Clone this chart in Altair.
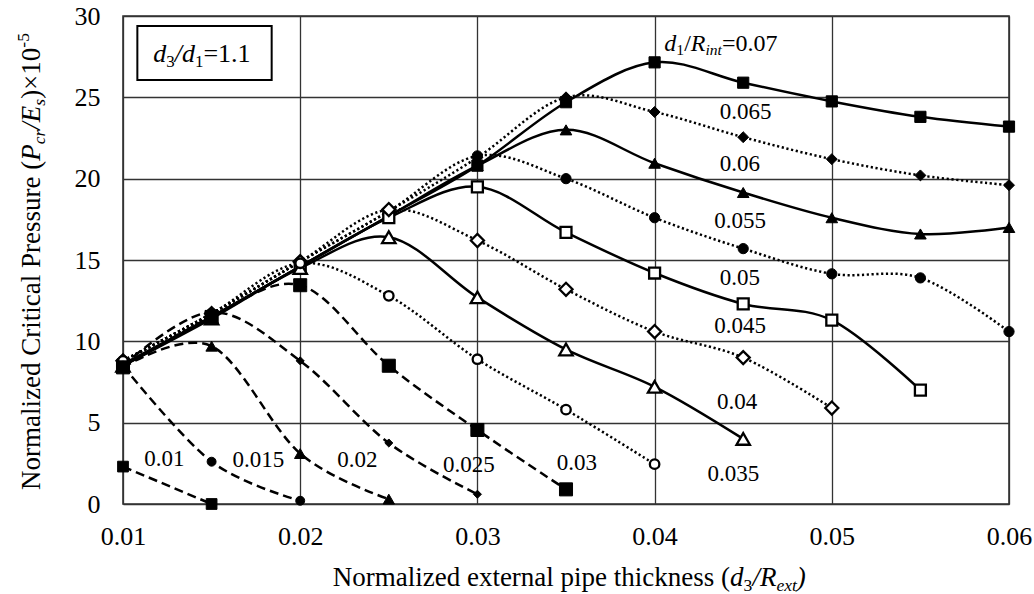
import altair as alt
import pandas as pd

# ---------------- data ----------------
X_VALUES = [0.01, 0.015, 0.02, 0.025, 0.03, 0.035, 0.04, 0.045, 0.05, 0.055, 0.06]

SERIES_NAMES = ["0.07", "0.065", "0.06", "0.055", "0.05", "0.045", "0.04",
                "0.035", "0.03", "0.025", "0.02", "0.015", "0.01"]

P070 = [8.6, 11.5, 14.6, 17.7, 20.8, 24.7, 27.15, 25.9, 24.75, 23.8, 23.2]
P065 = [8.8, 11.7, 14.9, 18.0, 21.3, 25.0, 24.1, 22.55, 21.2, 20.2, 19.6]
P060 = [8.5, 11.5, 14.6, 17.7, 20.8, 23.0, 20.95, 19.15, 17.6, 16.6, 17.0]
P055 = [8.8, 11.7, 14.9, 18.0, 21.4, 20.0, 17.6, 15.7, 14.15, 13.9, 10.6]
P050 = [8.5, 11.5, 14.6, 17.6, 19.5, 16.7, 14.2, 12.3, 11.3, 7.0]
P045 = [8.8, 11.7, 14.9, 18.1, 16.2, 13.2, 10.6, 9.0, 5.9]
P040 = [8.5, 11.4, 14.5, 16.4, 12.7, 9.5, 7.2, 4.0]
P035 = [8.8, 11.7, 14.8, 12.8, 8.9, 5.8, 2.45]
P030 = [8.4, 11.5, 13.45, 8.5, 4.55, 0.9]
P025 = [8.5, 11.8, 8.8, 3.75, 0.6]
P020 = [8.4, 9.7, 3.1, 0.3]
P015 = [8.5, 2.6, 0.2]
P010 = [2.3, 0.0]   # starts at x = 0.01

SERIES_VALUES = [P070, P065, P060, P055, P050, P045, P040,
                 P035, P030, P025, P020, P015, P010]

X_TICKS = [0.01, 0.02, 0.03, 0.04, 0.05, 0.06]
Y_TICKS = [0, 5, 10, 15, 20, 25, 30]

LABEL_TEXT = ["0.065", "0.06", "0.055", "0.05", "0.045", "0.04",
              "0.035", "0.03", "0.025", "0.02", "0.015", "0.01"]
LABEL_X = [0.04514, 0.04481, 0.04483, 0.04481, 0.04483, 0.04466,
           0.04444, 0.03561, 0.02952, 0.02323, 0.01764, 0.01233]
LABEL_Y = [24.07, 20.90, 17.40, 13.89, 10.97, 6.27,
           1.84, 2.55, 2.42, 2.70, 2.70, 2.77]

# annotation anchors (data coordinates)
TOP_LABEL_ANCHOR = [0.04055, 27.87]          # "d1/Rint=0.07"
BOX_X = [0.01081, 0.01839]
BOX_Y = [26.07, 29.38]
BOX_TEXT_ANCHOR = [0.01171, 27.19]           # "d3/d1=1.1"

# ---------------- styles ----------------
FONT = "Liberation Serif"
SOLID = []
DOTTED = [2.2, 2.6]
DASHED = [9, 5]
# name -> (dash, shape, filled, size)
STYLE = {
    "0.07": (SOLID, "square", True, 125),
    "0.065": (DOTTED, "diamond", True, 120),
    "0.06": (SOLID, "triangle-up", True, 135),
    "0.055": (DOTTED, "circle", True, 105),
    "0.05": (SOLID, "square", False, 120),
    "0.045": (DOTTED, "diamond", False, 170),
    "0.04": (SOLID, "triangle-up", False, 180),
    "0.035": (DOTTED, "circle", False, 90),
    "0.03": (DASHED, "square", True, 170),
    "0.025": (DASHED, "diamond", True, 65),
    "0.02": (DASHED, "triangle-up", True, 130),
    "0.015": (DASHED, "circle", True, 80),
    "0.01": (DASHED, "square", True, 115),
}

# Times / Liberation Serif advance widths (per 1000 em)
NORMAL_W = {' ': 250, '(': 333, ')': 333, '/': 278, '=': 564, '.': 250, '×': 564, '-': 333}
NORMAL_W.update({d: 500 for d in "0123456789"})
NORMAL_W.update(dict(zip("abcdefghijklmnopqrstuvwxyz",
                         [444, 500, 444, 500, 444, 333, 500, 500, 278, 278, 500, 278, 778,
                          500, 500, 500, 500, 333, 389, 278, 500, 500, 722, 500, 500, 444])))
NORMAL_W.update(dict(zip("ABCDEFGHIJKLMNOPQRSTUVWXYZ",
                         [722, 667, 667, 722, 611, 556, 722, 722, 333, 389, 722, 611, 889,
                          722, 722, 556, 722, 667, 556, 611, 722, 722, 944, 722, 722, 611])))
ITALIC_W = dict(NORMAL_W)
ITALIC_W.update(dict(zip("abcdefghijklmnopqrstuvwxyz",
                         [500, 500, 444, 500, 444, 278, 500, 500, 278, 278, 444, 278, 722,
                          500, 500, 500, 500, 389, 389, 278, 500, 444, 667, 444, 444, 389])))
ITALIC_W.update({'E': 611, 'P': 611, 'R': 611})


def text_width(s, italic, size):
    table = ITALIC_W if italic else NORMAL_W
    return sum(table.get(c, 500) for c in s) * size / 1000.0


def compose(pieces, size):
    """pieces: (text, italic, kind) kind in {'n','sub','sup'} -> (text, italic, fsize, offset, shift)"""
    out, pos = [], 0.0
    for txt, italic, kind in pieces:
        fs = size if kind == "n" else size * 0.65
        shift = 0.0
        if kind == "sub":
            shift = size * 0.2
        elif kind == "sup":
            shift = -size * 0.42
        out.append((txt, italic, fs, pos, shift))
        pos += text_width(txt, italic, fs)
    return out


# ---------------- chart ----------------
GRID = "#333333"
x_axis = alt.Axis(values=X_TICKS, format=".2f", labelFont=FONT, labelFontSize=26,
                  labelColor="black", ticks=False, domain=False, grid=True,
                  gridColor=GRID, gridWidth=1.3, labelPadding=19, title=None,
                  labelFlush=False)
y_axis = alt.Axis(values=Y_TICKS, format="d", labelFont=FONT, labelFontSize=26,
                  labelColor="black", ticks=False, domain=False, grid=True,
                  gridColor=GRID, gridWidth=1.3, labelPadding=23, title=None)
xs = alt.Scale(domain=[0.01, 0.06], nice=False, zero=False)
ys = alt.Scale(domain=[0, 30], nice=False, zero=True)


def X():
    return alt.X("x:Q", scale=xs, axis=x_axis)


def Y():
    return alt.Y("y:Q", scale=ys, axis=y_axis)


line_layers, point_layers = [], []
for name, vals in zip(SERIES_NAMES, SERIES_VALUES):
    df = pd.DataFrame({"x": X_VALUES[:len(vals)], "y": vals})
    dash, shape, filled, size = STYLE[name]
    lkw = dict(color="black", interpolate="cardinal", strokeWidth=2.5)
    if dash:
        lkw["strokeDash"] = dash
    line_layers.append(alt.Chart(df).mark_line(**lkw).encode(x=X(), y=Y()))
    if filled:
        pm = alt.Chart(df).mark_point(shape=shape, filled=True, fill="black", stroke="black",
                                      strokeWidth=1, size=size, opacity=1)
    else:
        pm = alt.Chart(df).mark_point(shape=shape, filled=True, fill="white", stroke="black",
                                      strokeWidth=2.3, size=size, opacity=1)
    point_layers.append(pm.encode(x=X(), y=Y()))

labels_df = pd.DataFrame({"x": LABEL_X, "y": LABEL_Y, "t": LABEL_TEXT})
labels = alt.Chart(labels_df).mark_text(font=FONT, fontSize=23, color="black",
                                        align="center", baseline="middle").encode(
    x=X(), y=Y(), text="t:N")

box_df = pd.DataFrame({"x": [BOX_X[0]], "x2": [BOX_X[1]], "y": [BOX_Y[0]], "y2": [BOX_Y[1]]})
box = alt.Chart(box_df).mark_rect(fill="white", stroke="black", strokeWidth=2).encode(
    x=X(), x2="x2", y=Y(), y2="y2")


def anchored_text(anchor, pieces, size):
    df = pd.DataFrame({"x": [anchor[0]], "y": [anchor[1]]})
    layers = []
    for txt, italic, fs, off, shift in compose(pieces, size):
        kw = dict(font=FONT, fontSize=fs, color="black", align="left",
                  baseline="alphabetic", dx=off, dy=shift)
        if italic:
            kw["fontStyle"] = "italic"
        layers.append(alt.Chart(df).mark_text(**kw).encode(x=X(), y=Y(), text=alt.value(txt)))
    return layers


top_label = anchored_text(TOP_LABEL_ANCHOR, [("d", True, "n"), ("1", False, "sub"),
                                             ("/", False, "n"), ("R", True, "n"),
                                             ("int", True, "sub"), ("=0.07", False, "n")], 24)
box_text = anchored_text(BOX_TEXT_ANCHOR, [("d", True, "n"), ("3", False, "sub"),
                                           ("/", True, "n"), ("d", True, "n"),
                                           ("1", False, "sub"), ("=1.1", False, "n")], 26)

dummy = pd.DataFrame({"a": [0]})


def pixel_text(x0, y0, pieces, size, rotated=False):
    layers = []
    for txt, italic, fs, off, shift in compose(pieces, size):
        kw = dict(font=FONT, fontSize=fs, color="black", align="left", baseline="alphabetic")
        if italic:
            kw["fontStyle"] = "italic"
        if rotated:
            kw["angle"] = 270
            px, py = x0 + shift, y0 - off
        else:
            px, py = x0 + off, y0 + shift
        layers.append(alt.Chart(dummy).mark_text(**kw).encode(
            x=alt.value(px), y=alt.value(py), text=alt.value(txt)))
    return layers


x_title = pixel_text(209.7, 569.7, [("Normalized external pipe thickness (", False, "n"),
                                    ("d", True, "n"), ("3", False, "sub"), ("/", True, "n"),
                                    ("R", True, "n"), ("ext", True, "sub"), (")", True, "n")], 27)
y_title = pixel_text(-83, 474, [("Normalized Critical Pressure (", False, "n"),
                                ("P", True, "n"), ("cr", True, "sub"), ("/", True, "n"),
                                ("E", True, "n"), ("s", True, "sub"), (")", False, "n"),
                                ("×10", False, "n"), ("-5", False, "sup")], 27, rotated=True)

chart = alt.layer(*line_layers, *point_layers, labels, box, *box_text, *top_label,
                  *x_title, *y_title).properties(
    width=886, height=488,
    autosize=alt.AutoSizeParams(type="none"),
    padding={"left": 123, "top": 16, "right": 25, "bottom": 90},
    background="white",
).configure_view(stroke=GRID, strokeWidth=1.6)

chart.save("out.html", embed_options={"renderer": "svg", "actions": False})
